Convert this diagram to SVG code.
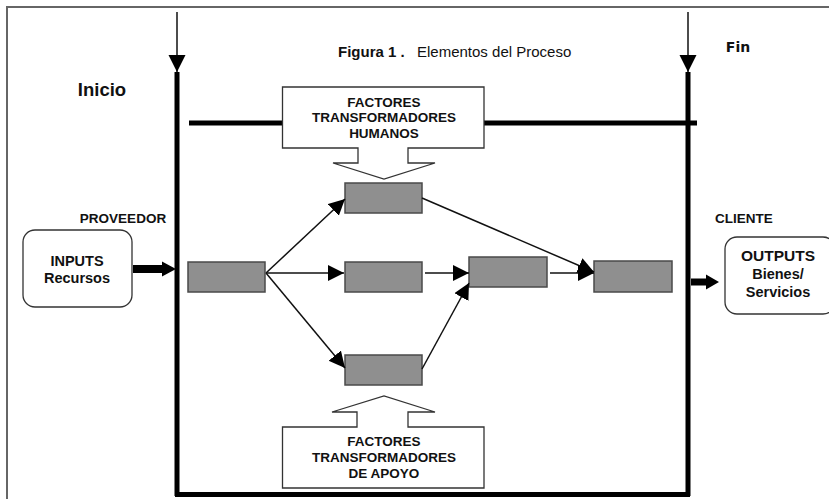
<svg xmlns="http://www.w3.org/2000/svg" width="829" height="499" viewBox="0 0 829 499">
<defs>
<style>
.t{font-family:"Liberation Sans",Arial,sans-serif;font-weight:bold;fill:#111;text-anchor:middle}
.box{fill:#8f8f8f;stroke:#4a4a4a;stroke-width:1.5}
.call{fill:#fff;stroke:#333;stroke-width:1.3}
.thin{stroke:#111;stroke-width:1.5;fill:none}
.thick{stroke:#000;stroke-width:5;fill:none}
.rb{fill:#fff;stroke:#333;stroke-width:1.3}
</style>
<marker id="ah" markerUnits="userSpaceOnUse" markerWidth="17" markerHeight="17" refX="16" refY="8" orient="auto" viewBox="0 0 17 17">
<path d="M0,0 L16,8 L0,16 Z" fill="#000"/>
</marker>
<marker id="ahv" markerUnits="userSpaceOnUse" markerWidth="18" markerHeight="18" refX="17" refY="8.5" orient="auto" viewBox="0 0 18 18">
<path d="M0,0 L17,8.5 L0,17 Z" fill="#000"/>
</marker>
</defs>
<rect width="829" height="499" fill="#fff"/>
<path d="M7,499 V7 H829" fill="none" stroke="#666" stroke-width="2"/>

<g id="title">
<text x="338" y="57" font-family="Liberation Sans,Arial,sans-serif" font-weight="bold" font-size="15" fill="#111">Figura 1 .</text>
<text x="417" y="57" font-family="Liberation Sans,Arial,sans-serif" font-size="15" fill="#111">Elementos del Proceso</text>
</g>
<g id="inicio"><text class="t" x="102" y="96" font-size="18.5">Inicio</text></g>
<g id="fin"><text class="t" x="738" y="52" font-size="14" style="font-family:'DejaVu Sans',sans-serif">Fin</text></g>

<g id="process-frame">
<line class="thin" x1="177" y1="12" x2="177" y2="72" marker-end="url(#ahv)"/>
<line class="thin" x1="688" y1="12" x2="688" y2="72" marker-end="url(#ahv)"/>
<line class="thick" x1="177" y1="72" x2="177" y2="496"/>
<line class="thick" x1="688" y1="72" x2="688" y2="496"/>
<line class="thick" x1="175" y1="494.5" x2="690" y2="494.5"/>
<line class="thick" x1="189" y1="123" x2="697" y2="123"/>
</g>

<g id="humanos">
<path class="call" d="M282.5,87 H484 V148 H408 V163 H435 L384,179 L333,163 H358 V148 H282.5 Z"/>
<text class="t" x="384" y="106.5" font-size="13.5">FACTORES</text>
<text class="t" x="384" y="122" font-size="13.5">TRANSFORMADORES</text>
<text class="t" x="384" y="137.5" font-size="13.5">HUMANOS</text>
</g>

<g id="apoyo">
<path class="call" d="M282.5,488 V427 H357 V412 H332 L384,396 L435,412 H408 V427 H484 V488 Z"/>
<text class="t" x="384" y="446" font-size="13.5">FACTORES</text>
<text class="t" x="384" y="462" font-size="13.5">TRANSFORMADORES</text>
<text class="t" x="384" y="478" font-size="13.5">DE APOYO</text>
</g>

<g id="proveedor"><text class="t" x="123" y="223" font-size="13.5">PROVEEDOR</text></g>
<g id="cliente"><text class="t" x="744" y="223" font-size="13.5">CLIENTE</text></g>

<g id="inputs">
<rect class="rb" x="23" y="230" width="109" height="77" rx="12"/>
<text class="t" x="77" y="265.5" font-size="14.5">INPUTS</text>
<text class="t" x="77" y="283" font-size="14.5">Recursos</text>
</g>

<g id="outputs">
<rect class="rb" x="725" y="237" width="110" height="77" rx="12"/>
<text class="t" x="778" y="260.5" font-size="15.5">OUTPUTS</text>
<text class="t" x="778" y="278.5" font-size="14.5">Bienes/</text>
<text class="t" x="778" y="296.5" font-size="14.5">Servicios</text>
</g>

<g id="b1"><rect class="box" x="188" y="262" width="77" height="30"/></g>
<g id="b2"><rect class="box" x="345" y="183" width="77" height="30"/></g>
<g id="b3"><rect class="box" x="345" y="262" width="77" height="30"/></g>
<g id="b4"><rect class="box" x="345" y="355" width="77" height="30"/></g>
<g id="b5"><rect class="box" x="469" y="257" width="78" height="30"/></g>
<g id="b6"><rect class="box" x="594" y="261" width="78" height="31"/></g>

<g id="connectors">
<path d="M133,265 H162 V261.5 L176,269 L162,276.5 V273 H133 Z" fill="#000"/>
<path d="M691,278.5 H706 V274.5 L719,282 L706,289.5 V285.5 H691 Z" fill="#000"/>
<line class="thin" x1="266" y1="273" x2="345" y2="199" marker-end="url(#ah)"/>
<line class="thin" x1="266" y1="273" x2="344" y2="273" marker-end="url(#ah)"/>
<line class="thin" x1="266" y1="273" x2="345" y2="368" marker-end="url(#ah)"/>
<line class="thin" x1="422" y1="198" x2="594" y2="272" marker-end="url(#ah)"/>
<line class="thin" x1="425" y1="273" x2="469" y2="273" marker-end="url(#ah)"/>
<line class="thin" x1="422" y1="369" x2="469" y2="283" marker-end="url(#ah)"/>
<line class="thin" x1="550" y1="273" x2="594" y2="273" marker-end="url(#ah)"/>
</g>
</svg>
